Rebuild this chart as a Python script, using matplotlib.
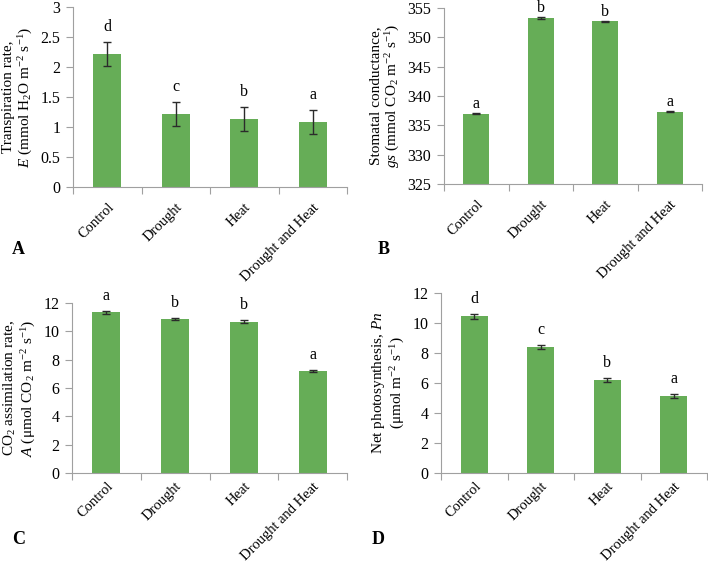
import matplotlib.pyplot as plt
import numpy as np

plt.rcParams['font.family'] = ['Liberation Serif', 'DejaVu Serif']
plt.rcParams['mathtext.fontset'] = 'custom'
plt.rcParams['mathtext.rm'] = 'Liberation Serif'
plt.rcParams['mathtext.it'] = 'Liberation Serif:italic'
plt.rcParams['mathtext.default'] = 'regular'

categories = ["Control", "Drought", "Heat", "Drought and Heat"]

# panel A - transpiration
trans_mean = [2.21, 1.21, 1.13, 1.08]
trans_err = [0.20, 0.20, 0.20, 0.20]
trans_letters = ["d", "c", "b", "a"]

# panel B - stomatal conductance
gs_mean = [337.0, 353.3, 352.7, 337.3]
gs_err = [0.10, 0.10, 0.08, 0.08]
gs_letters = ["a", "b", "b", "a"]

# panel C - CO2 assimilation
assim_mean = [11.34, 10.87, 10.68, 7.22]
assim_err = [0.10, 0.09, 0.09, 0.08]
assim_letters = ["a", "b", "b", "a"]

# panel D - net photosynthesis
pn_mean = [10.44, 8.42, 6.22, 5.14]
pn_err = [0.14, 0.14, 0.14, 0.13]
pn_letters = ["d", "c", "b", "a"]

W, H = 708, 564
bar_color = "#66ad57"
axis_color = "#a0a0a0"
fs = 10.5


def panel(box, means, errs, letters, ylim, yticks, ylabel, tag, tagpos, lab_off=5, xpad=10):
    left, right, top, bottom = box
    ax = fig.add_axes([left / W, 1 - bottom / H, (right - left) / W, (bottom - top) / H])
    x = np.arange(len(categories))
    ax.bar(x, np.array(means) - ylim[0], bottom=ylim[0], width=0.41, color=bar_color, zorder=2)
    ax.errorbar(x, means, yerr=errs, fmt="none", ecolor="#2b2b2b", elinewidth=1,
                capsize=3, capthick=1, zorder=3)
    for xi, m, e, lab in zip(x, means, errs, letters):
        ax.annotate(lab, (xi, m + e), xytext=(0, lab_off), textcoords="offset points",
                    ha="center", va="bottom", fontsize=fs + 1, annotation_clip=False)
    ax.set_xlim(-0.5, len(categories) - 0.5)
    ax.set_ylim(*ylim)
    ax.set_yticks(yticks)
    ax.set_yticklabels([("%g" % t) for t in yticks], fontsize=fs + 1)
    ax.set_xticks(np.arange(-0.5, len(categories), 1.0))
    ax.set_xticklabels([])
    ax.set_xticks(x, minor=True)
    ax.set_xticklabels(categories, minor=True, rotation=45, ha="right",
                       rotation_mode="anchor", fontsize=fs)
    ax.tick_params(axis="x", which="minor", length=0, pad=xpad)
    ax.tick_params(axis="x", which="major", length=5, color=axis_color, direction="out")
    ax.tick_params(axis="y", length=5, color=axis_color, direction="out", pad=4)
    for s in ["top", "right"]:
        ax.spines[s].set_visible(False)
    for s in ["left", "bottom"]:
        ax.spines[s].set_color(axis_color)
    ax.set_ylabel(ylabel, fontsize=fs + 0.5, labelpad=4, linespacing=1.15)
    fig.text(tagpos[0] / W, 1 - tagpos[1] / H, tag, fontsize=13, fontweight="bold",
             ha="left", va="center")
    return ax


fig = plt.figure(figsize=(W / 100, H / 100), dpi=100)

panel((73, 347, 7, 187), trans_mean, trans_err, trans_letters, (0, 3),
      [0, 0.5, 1, 1.5, 2, 2.5, 3],
      "Transpiration rate,\n$\\mathit{E}$ (mmol H$_2$O m$^{-2}$ s$^{-1}$)", "A", (12, 250))
panel((444, 702, 8, 184), gs_mean, gs_err, gs_letters, (325, 355),
      [325, 330, 335, 340, 345, 350, 355],
      "Stomatal conductance,\n$\\mathit{gs}$ (mmol CO$_2$ m$^{-2}$ s$^{-1}$)", "B", (378, 250),
      lab_off=1)
panel((72, 347, 303, 473), assim_mean, assim_err, assim_letters, (0, 12),
      [0, 2, 4, 6, 8, 10, 12],
      "CO$_2$ assimilation rate,\n$\\mathit{A}$ ($\\mu$mol CO$_2$ m$^{-2}$ s$^{-1}$)", "C", (12, 539),
      xpad=5)
panel((441, 707, 293, 473), pn_mean, pn_err, pn_letters, (0, 12),
      [0, 2, 4, 6, 8, 10, 12],
      "Net photosynthesis, $\\mathit{Pn}$\n($\\mu$mol m$^{-2}$ s$^{-1}$)", "D", (372, 539),
      xpad=5)

fig.savefig("out.png", dpi=100)
